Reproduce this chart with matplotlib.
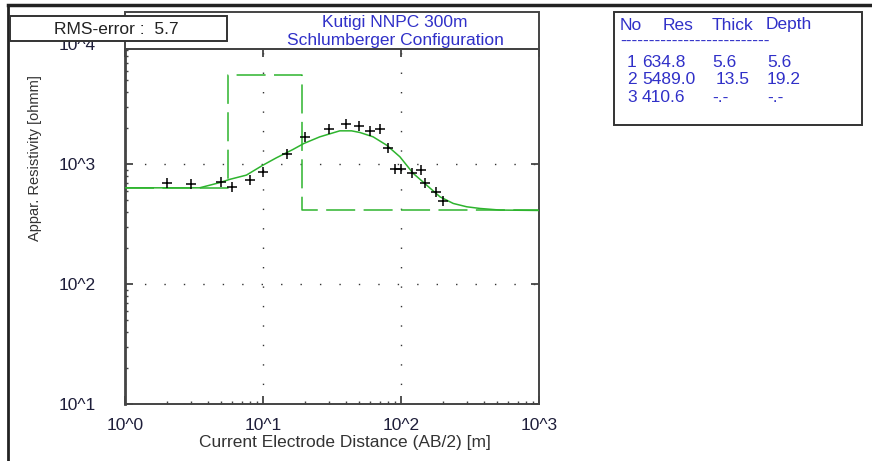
import matplotlib.pyplot as plt
from matplotlib.patches import Rectangle
from matplotlib.lines import Line2D

plt.rcParams["font.family"] = ["Liberation Sans", "DejaVu Sans"]

# field data: AB/2 [m] and apparent resistivity [ohmm]
ab2 = [2, 3, 5, 6, 8, 10, 15, 20, 30, 40, 50, 60, 70, 80, 90, 100,
       120, 140, 150, 180, 200]
rho_obs = [690, 681, 712, 647, 736, 866, 1211, 1679, 1969, 2154, 2073, 1895,
           1969, 1372, 905, 905, 846, 886, 690, 588, 494]

# computed (fitted) curve
ab2_fit = [1.0, 3.47, 4.85, 5.73, 7.58, 10.0, 12.5, 16.5, 19.8, 25.8, 36.0,
           43.8, 50.3, 62.8, 78.6, 98.2, 122.6, 153.4, 191.6, 239.2, 299.3,
           373.7, 522, 1000]
rho_fit = [634.6, 634.6, 701, 746, 810, 981, 1129, 1326, 1488, 1689, 1895,
           1895, 1837, 1689, 1440, 1151, 837, 668, 534, 470, 441, 427, 414, 411]

# layer model
layer_no = [1, 2, 3]
layer_res = [634.8, 5489.0, 410.6]
layer_thick = ["5.6", "13.5", "-.-"]
layer_depth = [5.6, 19.2]

rms_error = 5.7
title1 = "Kutigi NNPC 300m"
title2 = "Schlumberger Configuration"

W, H = 872, 461
blue = "#3030c8"
green = "#2eb42e"
dark = "#1e1e3a"
fs = 12.5


def fx(px):
    return px / W


def fy(py):
    return 1 - py / H


fig = plt.figure(figsize=(W / 100, H / 100), dpi=100)
ax = fig.add_axes([fx(125), fy(404), (539 - 125) / W, (404 - 49) / H])

# model as step line
mx = [1.0, layer_depth[0], layer_depth[0], layer_depth[1], layer_depth[1], 1000.0]
my = [layer_res[0], layer_res[0], layer_res[1], layer_res[1], layer_res[2], layer_res[2]]
ax.plot(mx, my, color=green, lw=1.1, dashes=(19, 5.5), zorder=2)
ax.plot(ab2_fit, rho_fit, color=green, lw=1.1, zorder=3)
ax.plot(ab2, rho_obs, "+", color="black", ms=7.5, mew=1.1, zorder=4)

ax.set_xscale("log")
ax.set_yscale("log")
ax.set_xlim(1, 1000)
ax.set_ylim(10, 10 ** 3.96)
ax.set_xticks([1, 10, 100, 1000], ["10^0", "10^1", "10^2", "10^3"])
ax.set_yticks([10, 100, 1000], ["10^1", "10^2", "10^3"])
ax.grid(True, which="major", color="#333333", lw=1.0, linestyle=(0, (1, 13)))
ax.tick_params(which="both", direction="in", top=True, right=True,
               colors="#444444", labelcolor=dark, labelsize=fs)
ax.tick_params(which="major", length=6, width=1.3)
ax.tick_params(which="minor", length=2.5, width=1.0, top=False, right=False)
ax.tick_params(axis="x", pad=10)
ax.tick_params(axis="y", pad=21)
for s in ax.spines.values():
    s.set_color("#444444")
    s.set_linewidth(1.4)
ax.spines["left"].set_linewidth(2)

fig.text(fx(77), fy(46), "10^4", ha="center", va="center", fontsize=fs, color=dark)

# labels
fig.text(fx(345), fy(442), "Current Electrode Distance (AB/2) [m]",
         ha="center", va="center", fontsize=fs, color="#333333")
fig.text(fx(35), fy(158), "Appar. Resistivity [ohmm]", rotation=90,
         ha="center", va="center", fontsize=10.5, color="#333333")

# outer frame
fig.add_artist(Line2D([fx(8), fx(8)], [fy(5), fy(461)], color="#222222", lw=2))
fig.add_artist(Line2D([fx(8), fx(872)], [fy(5), fy(5)], color="#222222", lw=2.5))

# header box with title
fig.add_artist(Rectangle((fx(125), fy(49)), (539 - 125) / W, (49 - 12) / H,
                         fill=False, ec="#444444", lw=1.4))
fig.text(fx(395), fy(22), title1, ha="center", va="center", fontsize=fs, color=blue)
fig.text(fx(395), fy(41), title2, ha="center", va="center", fontsize=fs, color=blue)

# rms box
fig.add_artist(Rectangle((fx(10), fy(41)), (227 - 10) / W, (41 - 16) / H,
                         fc="white", ec="#333333", lw=1.4, zorder=5))
fig.text(fx(116), fy(29), f"RMS-error :  {rms_error}", ha="center", va="center",
         fontsize=fs, color="#222222", zorder=6)

# layer table
fig.add_artist(Rectangle((fx(614), fy(125)), (862 - 614) / W, (125 - 12) / H,
                         fill=False, ec="#333333", lw=1.4))
col_x = [620, 663, 712, 766]
for x, t in zip(col_x, ["No", "Res", "Thick", "Depth"]):
    fig.text(fx(x), fy(25), t, ha="left", va="center", fontsize=fs, color=blue)
fig.text(fx(620), fy(41), "-" * 26, ha="left", va="center", fontsize=fs, color=blue)
row_y = [62, 80, 97]
for i in range(3):
    y = fy(row_y[i])
    fig.text(fx(627), y, str(layer_no[i]), ha="left", va="center", fontsize=fs, color=blue)
    fig.text(fx(642), y, f"{layer_res[i]:.1f}", ha="left", va="center", fontsize=fs, color=blue)
    fig.text(fx(712 if layer_thick[i] != "13.5" else 716), y, layer_thick[i],
             ha="left", va="center", fontsize=fs, color=blue)
    d = f"{layer_depth[i]:.1f}" if i < len(layer_depth) else "-.-"
    fig.text(fx(767), y, d, ha="left", va="center", fontsize=fs, color=blue)

fig.savefig("out.png", dpi=100)
